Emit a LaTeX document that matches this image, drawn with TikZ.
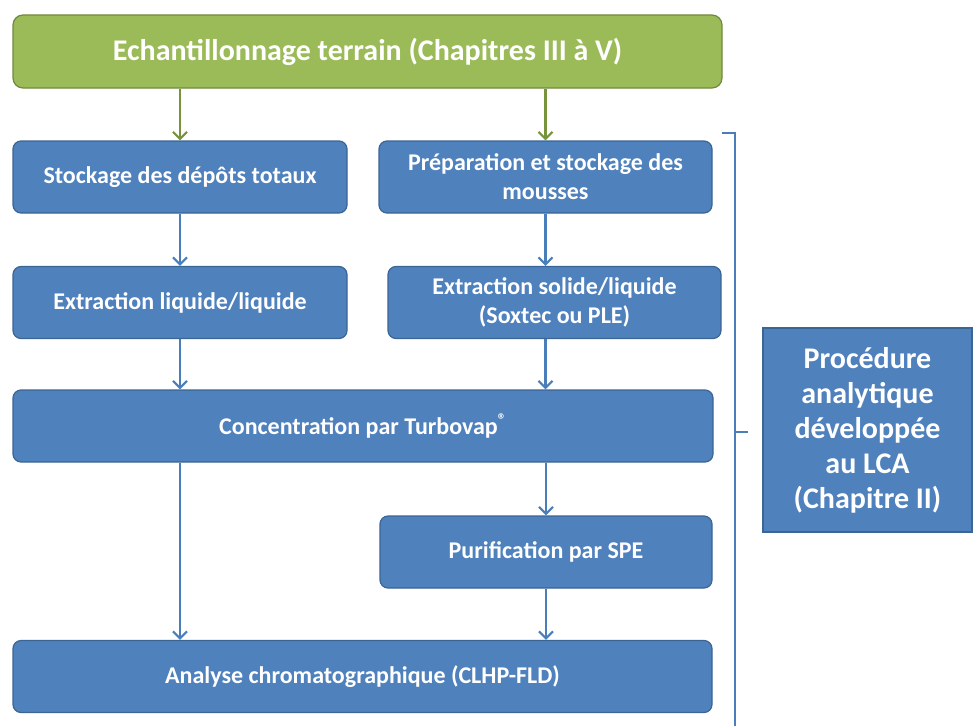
\documentclass[tikz,border=0pt]{standalone}
\usepackage{fontspec}
\setmainfont{Carlito}
\usetikzlibrary{arrows.meta}
\definecolor{bleu}{HTML}{4F81BD}
\definecolor{bleuBord}{HTML}{3B6594}
\definecolor{bleuFleche}{HTML}{4A7EBB}
\definecolor{vert}{HTML}{9BBB59}
\definecolor{vertBord}{HTML}{71893F}
\definecolor{vertFleche}{HTML}{77933C}

\begin{document}
\begin{tikzpicture}[x=1pt, y=-1pt,
    font=\bfseries\fontsize{24}{29}\selectfont,
    etape/.style={draw=bleuBord, line width=1.2pt, fill=bleu, text=white,
                  rounded corners=8pt, align=center, inner sep=0pt,
                  minimum width=#1, minimum height=72pt},
    titre/.style={draw=vertBord, line width=1.2pt, fill=vert, text=white,
                  rounded corners=10pt, inner sep=0pt,
                  minimum width=709pt, minimum height=73pt,
                  font=\bfseries\fontsize{30}{34}\selectfont},
    bloc/.style={draw=bleuBord, line width=1.2pt, fill=bleu, text=white,
                 align=center, inner sep=0pt,
                 minimum width=209pt, minimum height=204pt,
                 font=\bfseries\fontsize{30}{35}\selectfont},
    fleche/.style={-{Straight Barb[length=7pt,width=14pt]}, line width=2.2pt, bleuFleche},
    flecheV/.style={-{Straight Barb[length=7pt,width=14pt]}, line width=2.2pt, vertFleche},
    accolade/.style={line width=2pt, bleuFleche}]

  \useasboundingbox (0,0) rectangle (973,725);

  %% Echantillonnage (top)
  \node[titre] (terrain) at (367.5,51.5) {Echantillonnage terrain (Chapitres III à V)};

  %% Two branches
  \node[etape=334pt] (depots)  at (180,177)   {Stockage des dépôts totaux};
  \node[etape=333pt] (mousses) at (545.5,177) {Préparation et stockage des\\mousses};
  \node[etape=334pt] (extLL)   at (180,302.5) {Extraction liquide/liquide};
  \node[etape=333pt] (extSL)   at (554.5,302.5) {Extraction solide/liquide\\(Soxtec ou PLE)};

  %% Common steps
  \node[etape=700pt] (concent) at (363,426)   {Concentration par Turbovap\textsuperscript{®}};
  \node[etape=332pt] (purif)   at (546,552)   {Purification par SPE};
  \node[etape=699pt] (analyse) at (362.5,676.5) {Analyse chromatographique (CLHP-FLD)};

  %% Procedure label
  \node[bloc] (procedure) at (867.5,430) {Procédure\\analytique\\développée\\au LCA\\(Chapitre II)};

  %% Arrows
  \draw[flecheV] (terrain.south -| depots) -- (depots.north);
  \draw[flecheV] (terrain.south -| mousses) -- (mousses.north);
  \draw[fleche] (depots) -- (extLL);
  \draw[fleche] (mousses) -- (mousses |- extSL.north);
  \draw[fleche] (extLL) -- (extLL |- concent.north);
  \draw[fleche] (extSL.south -| mousses) -- (mousses |- concent.north);
  \draw[fleche] (concent.south -| depots) -- (depots |- analyse.north);
  \draw[fleche] (concent.south -| purif) -- (purif);
  \draw[fleche] (purif) -- (purif |- analyse.north);

  %% Bracket
  \coordinate (accH) at (722,133);
  \coordinate (accB) at (735,726);
  \coordinate (pointe) at (748,432);
  \draw[accolade] (accH) -| (accB);
  \draw[accolade] (pointe -| accB) -- (pointe);
\end{tikzpicture}
\end{document}
